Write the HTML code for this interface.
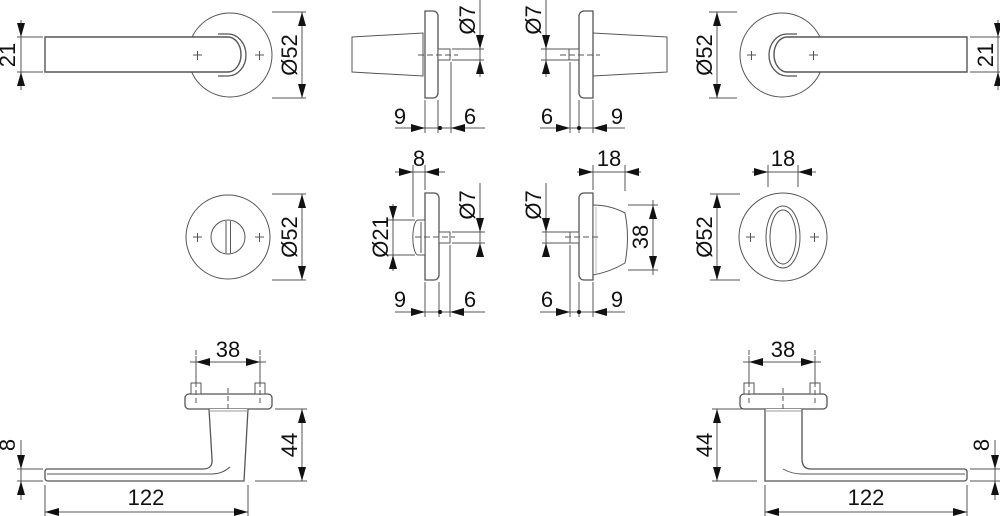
<!DOCTYPE html>
<html><head><meta charset="utf-8"><style>
html,body{margin:0;padding:0;background:#fff;}
svg{display:block;}
text{font-family:"Liberation Sans",Arial,sans-serif;font-size:22px;fill:#111;}
</style></head><body>
<svg width="1000" height="516" viewBox="0 0 1000 516" xmlns="http://www.w3.org/2000/svg">
<g fill="none" stroke="#555" stroke-width="1">
<!-- ========== TOP LEFT ========== -->
<circle cx="230" cy="55" r="42" fill="#fff"/>
<path d="M218,34 L228,34 A18,21 0 0 1 228,76 L218,76" fill="#fff" stroke-width="1.3"/>
<path d="M45,37 L228,37 A13,17.5 0 0 1 228,72 L45,72 Z" fill="#fff" stroke-width="1.4"/>
<path d="M193,55h9M197.5,51v9M255,55h9M259.5,51v9"/>
<!-- dims -->
<path d="M17,37h26M17,72h26M21,20v70"/>
<path d="M272,12h34M272,98h34M302,12v86"/>
<!-- side view -->
<path d="M352,37 L423,33 L423,76 L352,72 Z" fill="#fff"/>
<path d="M425,11 h8 a5,5 0 0 1 5,5 v77 a5,5 0 0 1 -5,5 h-8 Z" fill="#fff" stroke-width="1.3"/>
<rect x="438" y="49" width="12" height="11" fill="#fff"/>
<path d="M418,55h40" stroke-dasharray="6,3"/>
<path d="M452,49h32M452,60h32M480,0v77"/>
<path d="M425,100v33M438,100v33M451,62v71M395,128h90"/>
<!-- ========== TOP RIGHT ========== -->
<circle cx="782" cy="55" r="42" fill="#fff"/>
<path d="M797,34 L787,34 A18,21 0 0 0 787,76 L797,76" fill="#fff" stroke-width="1.3"/>
<path d="M967,37 L787,37 A13,17.5 0 0 0 787,72 L967,72 Z" fill="#fff" stroke-width="1.4"/>
<path d="M747,55h9M751.5,51v9M809,55h9M813.5,51v9"/>
<path d="M709,12h28M709,98h28M717,12v86"/>
<path d="M970,37h30M970,72h30M998,20v70"/>
<path d="M667,37 L593,33 L593,76 L667,72 Z" fill="#fff"/>
<path d="M593,11 h-9 a5,5 0 0 0 -5,5 v77 a5,5 0 0 0 5,5 h9 Z" fill="#fff" stroke-width="1.3"/>
<rect x="569" y="49" width="10" height="11" fill="#fff"/>
<path d="M560,55h40" stroke-dasharray="6,3"/>
<path d="M541,49h30M541,60h30M546,0v77"/>
<path d="M570,62v71M579,100v33M593,100v33M540,128h85"/>
<!-- ========== MIDDLE LEFT ========== -->
<circle cx="228" cy="237" r="42" fill="#fff"/>
<circle cx="228" cy="237" r="17"/>
<path d="M226,221v32M230.5,221v32"/>
<path d="M193,237h9M197.5,233v9M255,237h9M259.5,233v9"/>
<path d="M272,194h34M272,280h34M302,194v86"/>
<path d="M425,193 h9 a5,5 0 0 1 5,5 v77 a5,5 0 0 1 -5,5 h-9 Z" fill="#fff" stroke-width="1.3"/>
<path d="M425,220 h-7 a5,17 0 0 0 0,35 h7 Z" fill="#fff"/>
<path d="M421,222v31"/>
<rect x="439" y="232" width="11" height="11" fill="#fff"/>
<path d="M415,237h40" stroke-dasharray="6,3"/>
<path d="M413,165v52M425,165v25M395,172h50"/>
<path d="M388,220h27M388,255h27M393,204v67"/>
<path d="M452,232h33M452,243h33M480,183v74"/>
<path d="M425,282v35M439,282v35M450,245v72M395,312h90"/>
<!-- ========== MIDDLE RIGHT ========== -->
<path d="M593,193 h-9 a5,5 0 0 0 -5,5 v77 a5,5 0 0 0 5,5 h9 Z" fill="#fff" stroke-width="1.3"/>
<path d="M593,205 Q610,205 625,213 Q630,238 625,263 Q610,272 593,275 Z" fill="#fff"/>
<path d="M596,207 L596,273" stroke="#bbb"/>
<rect x="570" y="232" width="9" height="11" fill="#fff"/>
<path d="M565,237h35" stroke-dasharray="6,3"/>
<path d="M593,165v25M625,165v26M577,172h64"/>
<path d="M628,205h30M628,270h30M653,200v75"/>
<path d="M542,232h30M542,243h30M546,183v74"/>
<path d="M570,245v72M579,282v35M593,282v35M540,312h85"/>
<circle cx="783" cy="237" r="44" fill="#fff"/>
<ellipse cx="783" cy="237" rx="17" ry="31"/>
<ellipse cx="783" cy="237" rx="13" ry="27"/>
<path d="M746,237h9M750.5,233v9M810,237h9M814.5,233v9"/>
<path d="M710,194h30M710,280h30M717,194v86"/>
<path d="M768,165v22M798,165v22M752,172h64"/>
<!-- ========== BOTTOM LEFT ========== -->
<rect x="185" y="394" width="87" height="15" rx="4" fill="#fff" stroke-width="1.3"/>
<rect x="191" y="383" width="10" height="11" fill="#fff"/>
<rect x="255" y="383" width="10" height="11" fill="#fff"/>
<path d="M196,350v53M260,350v53M228,388v28" stroke-dasharray="5,3"/>
<path d="M209,409 L212,459 Q213,469 203,469 L47,469 Q45,469 45,472 L45,478 Q45,481 48,481 L244,481 L248,409" fill="#fff" stroke-width="1.3"/>
<path d="M209,411h39" stroke="#999"/>
<path d="M230,467 Q222,474 212,474 L47,474" />
<path d="M196,356v28M260,356v28M190,362h76"/>
<path d="M275,409h32M255,481h52M302,409v72"/>
<path d="M17,469h26M17,481h26M21,440v60"/>
<path d="M45,485v31M248,485v31M45,512h203"/>
<!-- ========== BOTTOM RIGHT ========== -->
<rect x="740" y="394" width="87" height="15" rx="4" fill="#fff" stroke-width="1.3"/>
<rect x="744" y="383" width="10" height="11" fill="#fff"/>
<rect x="810" y="383" width="10" height="11" fill="#fff"/>
<path d="M749,350v53M815,350v53M783,388v28" stroke-dasharray="5,3"/>
<path d="M765,409 L765,481 L964,481 Q967,481 967,478 L967,472 Q967,469 964,469 L811,469 Q802,469 802,459 L802,409" fill="#fff" stroke-width="1.3"/>
<path d="M765,411h37" stroke="#999"/>
<path d="M783,469 Q792,474 802,474 L965,474"/>
<path d="M749,356v28M815,356v28M743,362h78"/>
<path d="M712,409h30M712,481h45M717,409v72"/>
<path d="M970,469h30M970,481h30M995,440v60"/>
<path d="M765,485v31M967,485v31M765,512h202"/>
</g>
<!-- arrowheads -->
<g fill="#111">
<polygon points="17,23 25,23 21,37"/><polygon points="17,86 25,86 21,72"/>
<polygon points="298,26 306,26 302,12"/><polygon points="298,84 306,84 302,98"/>
<polygon points="476,35 484,35 480,49"/><polygon points="476,74 484,74 480,60"/>
<polygon points="411,124 411,132 425,128"/><polygon points="465,124 465,132 451,128"/>
<circle cx="440" cy="128" r="2"/>
<polygon points="713,26 721,26 717,12"/><polygon points="713,84 721,84 717,98"/>
<polygon points="542,35 550,35 546,49"/><polygon points="542,74 550,74 546,60"/>
<polygon points="556,124 556,132 570,128"/><polygon points="607,124 607,132 593,128"/>
<circle cx="579" cy="128" r="2"/>
<polygon points="994,23 1002,23 998,37"/><polygon points="994,86 1002,86 998,72"/>
<polygon points="298,208 306,208 302,194"/><polygon points="298,266 306,266 302,280"/>
<polygon points="399,168 399,176 413,172"/><polygon points="439,168 439,176 425,172"/>
<polygon points="389,206 397,206 393,220"/><polygon points="389,269 397,269 393,255"/>
<polygon points="476,218 484,218 480,232"/><polygon points="476,257 484,257 480,243"/>
<polygon points="411,308 411,316 425,312"/><polygon points="464,308 464,316 450,312"/>
<circle cx="440" cy="312" r="2"/>
<polygon points="579,168 579,176 593,172"/><polygon points="639,168 639,176 625,172"/>
<polygon points="649,219 657,219 653,205"/><polygon points="649,256 657,256 653,270"/>
<polygon points="542,218 550,218 546,232"/><polygon points="542,257 550,257 546,243"/>
<polygon points="556,308 556,316 570,312"/><polygon points="607,308 607,316 593,312"/>
<circle cx="579" cy="312" r="2"/>
<polygon points="713,208 721,208 717,194"/><polygon points="713,266 721,266 717,280"/>
<polygon points="754,168 754,176 768,172"/><polygon points="812,168 812,176 798,172"/>
<polygon points="210,358 210,366 196,362"/><polygon points="246,358 246,366 260,362"/>
<polygon points="298,423 306,423 302,409"/><polygon points="298,467 306,467 302,481"/>
<polygon points="17,455 25,455 21,469"/><polygon points="17,495 25,495 21,481"/>
<polygon points="59,508 59,516 45,512"/><polygon points="234,508 234,516 248,512"/>
<polygon points="763,358 763,366 749,362"/><polygon points="801,358 801,366 815,362"/>
<polygon points="713,423 721,423 717,409"/><polygon points="713,467 721,467 717,481"/>
<polygon points="991,455 999,455 995,469"/><polygon points="991,495 999,495 995,481"/>
<polygon points="779,508 779,516 765,512"/><polygon points="953,508 953,516 967,512"/>
</g>
<!-- labels -->
<g>
<text transform="translate(15,55) rotate(-90)" text-anchor="middle">21</text>
<text transform="translate(297,55) rotate(-90)" text-anchor="middle">Ø52</text>
<text transform="translate(475,20) rotate(-90)" text-anchor="middle">Ø7</text>
<text x="400" y="124" text-anchor="middle">9</text>
<text x="470" y="124" text-anchor="middle">6</text>
<text transform="translate(541,20) rotate(-90)" text-anchor="middle">Ø7</text>
<text x="547" y="124" text-anchor="middle">6</text>
<text x="617" y="124" text-anchor="middle">9</text>
<text transform="translate(712,55) rotate(-90)" text-anchor="middle">Ø52</text>
<text transform="translate(993,55) rotate(-90)" text-anchor="middle">21</text>

<text transform="translate(297,237) rotate(-90)" text-anchor="middle">Ø52</text>
<text x="419" y="166" text-anchor="middle">8</text>
<text transform="translate(388,237) rotate(-90)" text-anchor="middle">Ø21</text>
<text transform="translate(475,205) rotate(-90)" text-anchor="middle">Ø7</text>
<text x="400" y="307" text-anchor="middle">9</text>
<text x="470" y="307" text-anchor="middle">6</text>
<text x="609" y="166" text-anchor="middle">18</text>
<text transform="translate(648,237) rotate(-90)" text-anchor="middle">38</text>
<text transform="translate(541,205) rotate(-90)" text-anchor="middle">Ø7</text>
<text x="547" y="307" text-anchor="middle">6</text>
<text x="617" y="307" text-anchor="middle">9</text>
<text transform="translate(712,237) rotate(-90)" text-anchor="middle">Ø52</text>
<text x="783" y="166" text-anchor="middle">18</text>

<text x="228" y="357" text-anchor="middle">38</text>
<text transform="translate(297,445) rotate(-90)" text-anchor="middle">44</text>
<text transform="translate(15,445) rotate(-90)" text-anchor="middle">8</text>
<text x="146" y="505" text-anchor="middle">122</text>
<text x="783" y="357" text-anchor="middle">38</text>
<text transform="translate(712,445) rotate(-90)" text-anchor="middle">44</text>
<text transform="translate(989,445) rotate(-90)" text-anchor="middle">8</text>
<text x="866" y="505" text-anchor="middle">122</text>
</g>
</svg>
</body></html>
